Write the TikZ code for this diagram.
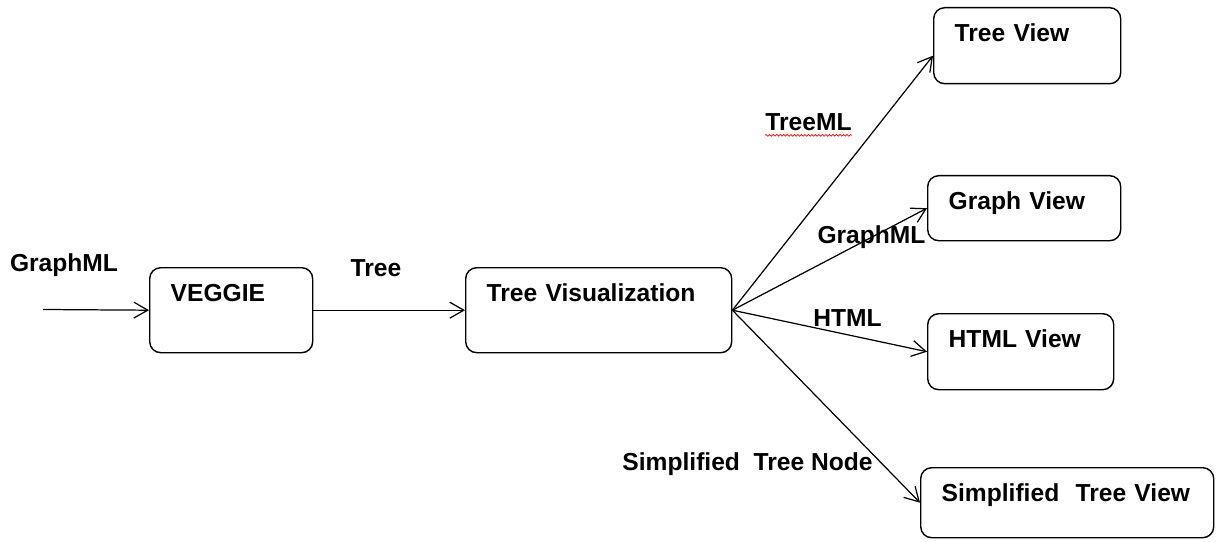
\documentclass[tikz,border=0pt]{standalone}
\usepackage{fontspec}
\setmainfont{Liberation Sans}
\usetikzlibrary{arrows.meta, calc, decorations.pathmorphing}

\tikzset{
    box/.style={draw, line width=0.8pt, rounded corners=0.22cm, anchor=north west,
        align=left, inner xsep=0.42cm, inner ysep=0.32cm, text height=0.36cm,
        font=\fontsize{14}{16}\selectfont\bfseries},
    lbl/.style={inner sep=0pt, font=\fontsize{14}{16}\selectfont\bfseries},
    arr/.style={line width=0.7pt, -{Straight Barb[length=2.8mm, width=3.2mm]}}
}

\begin{document}
\begin{tikzpicture}

        \useasboundingbox (0, 0) rectangle (24.34, 10.82);

        \node[box, text width=2.42cm, text depth=0.70cm] (veggie) at (2.98, 5.48) {VEGGIE};
        \node[box, text width=4.48cm, text depth=0.70cm] (treevis) at (9.30, 5.48) {Tree Visualization};

        \node[box, text width=2.90cm, text depth=0.52cm] (treeview) at (18.66, 10.68) {Tree View};
        \node[box, text width=3.02cm, text depth=0.30cm] (graphview) at (18.54, 7.32) {Graph View};
        \node[box, text width=2.88cm, text depth=0.52cm] (htmlview) at (18.54, 4.56) {HTML View};
        \node[box, text width=5.02cm, text depth=0.40cm] (simpview) at (18.40, 1.48) {Simplified\ \ Tree View};

        \coordinate (in) at (0.86, 4.63);

        \draw[arr] (in) -- (veggie.west);
        \draw[arr] (veggie.east) -- (treevis.west);

        \draw[arr] (treevis.east) -- ([yshift=-0.2cm]treeview.west);
        \draw[arr] (treevis.east) -- (graphview.west);
        \draw[arr] (treevis.east) -- (htmlview.west);
        \draw[arr] (treevis.east) -- (simpview.west);

        \node[lbl] (graphml) at (1.28, 5.52) {GraphML};
        \node[lbl] (tree) at (7.52, 5.46) {Tree};
        \node[lbl] (treeml) at (16.17, 8.38) {TreeML};
        \node[lbl] (graphml2) at (17.43, 6.08) {GraphML};
        \node[lbl] (html) at (16.95, 4.46) {HTML};
        \node[lbl] (simpnode) at (14.95, 1.54) {Simplified\ \ Tree Node};

        % spell check underline
        \draw[red, line width=0.4pt, decorate, decoration={snake, amplitude=0.5pt, segment length=2pt}]
            ($(treeml.base west)+(0, -0.1)$) -- ($(treeml.base east)+(0, -0.1)$);

    \end{tikzpicture}
\end{document}
